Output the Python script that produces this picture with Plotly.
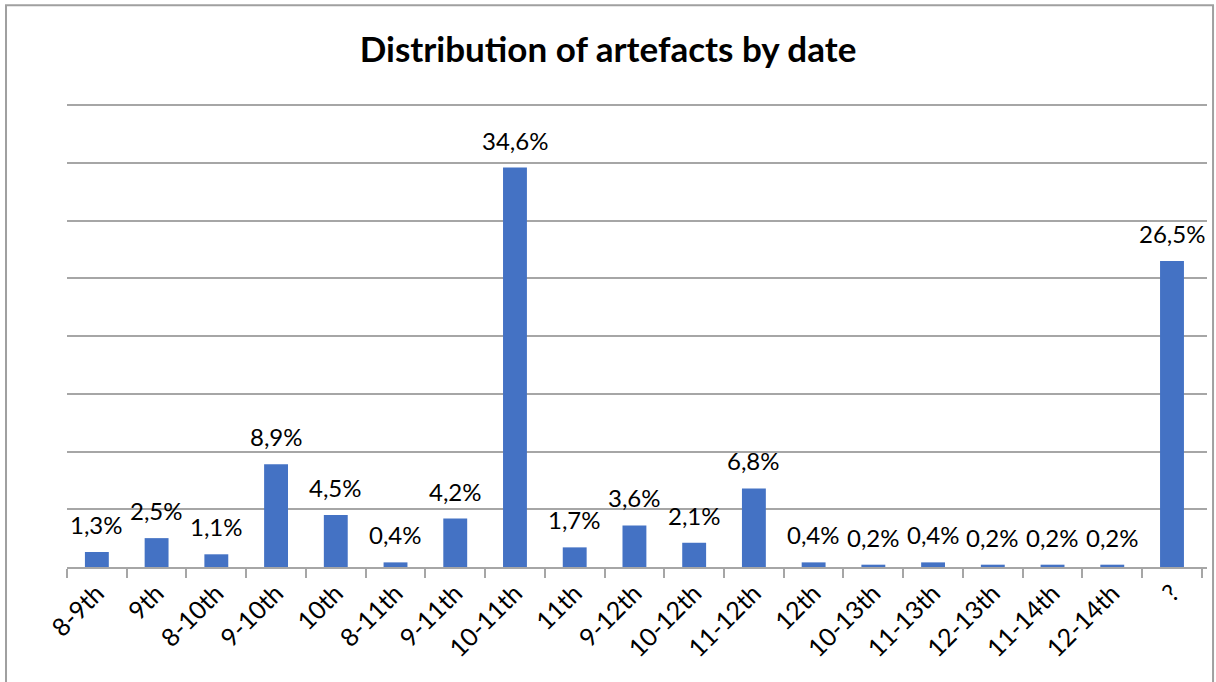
import plotly.graph_objects as go

# Dating periods (centuries) and the share of artefacts in each, in percent
periods = ["8-9th", "9th", "8-10th", "9-10th", "10th", "8-11th", "9-11th", "10-11th",
           "11th", "9-12th", "10-12th", "11-12th", "12th", "10-13th", "11-13th",
           "12-13th", "11-14th", "12-14th", "?"]
shares = [1.3, 2.5, 1.1, 8.9, 4.5, 0.4, 4.2, 34.6, 1.7, 3.6, 2.1, 6.8, 0.4, 0.2, 0.4,
          0.2, 0.2, 0.2, 26.5]

FONT = "Lato, 'Open Sans', sans-serif"
GRID = "#A6A6A6"
BAR = "#4472C4"


def pct(v):
    return f"{v:.1f}".replace(".", ",") + "%"


fig = go.Figure(
    go.Bar(
        x=periods,
        y=shares,
        marker=dict(color=BAR, line=dict(width=0)),
        hoverinfo="x+y",
    )
)

# Value labels above each bar
for p, v in zip(periods, shares):
    fig.add_annotation(
        x=p, y=v, text=pct(v), showarrow=False,
        xanchor="center", yanchor="bottom", yshift=11,
        font=dict(family=FONT, size=24, color="#000000"),
    )

# Outer chart border
fig.add_shape(
    type="rect", xref="paper", yref="paper",
    x0=-0.0535, x1=1.0053, y0=-0.4, y1=1.2135,
    line=dict(color="#A0A0A0", width=2), layer="below",
)

fig.update_layout(
    width=1216, height=682,
    margin=dict(l=67, r=9, t=104, b=115),
    paper_bgcolor="white", plot_bgcolor="white",
    bargap=0.6,
    showlegend=False,
    title=dict(
        text="<b>Distribution of artefacts by date</b>",
        x=0.5, xanchor="center", y=1 - 50 / 682, yanchor="middle",
        font=dict(family=FONT, size=35, color="#000000"),
    ),
    xaxis=dict(
        type="category",
        showline=True, linecolor=GRID, linewidth=1.5,
        ticks="outside", tickson="boundaries", ticklen=9,
        tickcolor=GRID, tickwidth=1.5,
        tickangle=-45,
        tickfont=dict(family=FONT, size=25, color="#000000"),
        showgrid=False,
    ),
    yaxis=dict(
        range=[0, 40.1], tick0=0, dtick=5,
        showgrid=True, gridcolor=GRID, gridwidth=1.5,
        showticklabels=False, zeroline=False,
        showline=False,
    ),
)

fig.write_html("out.html")
